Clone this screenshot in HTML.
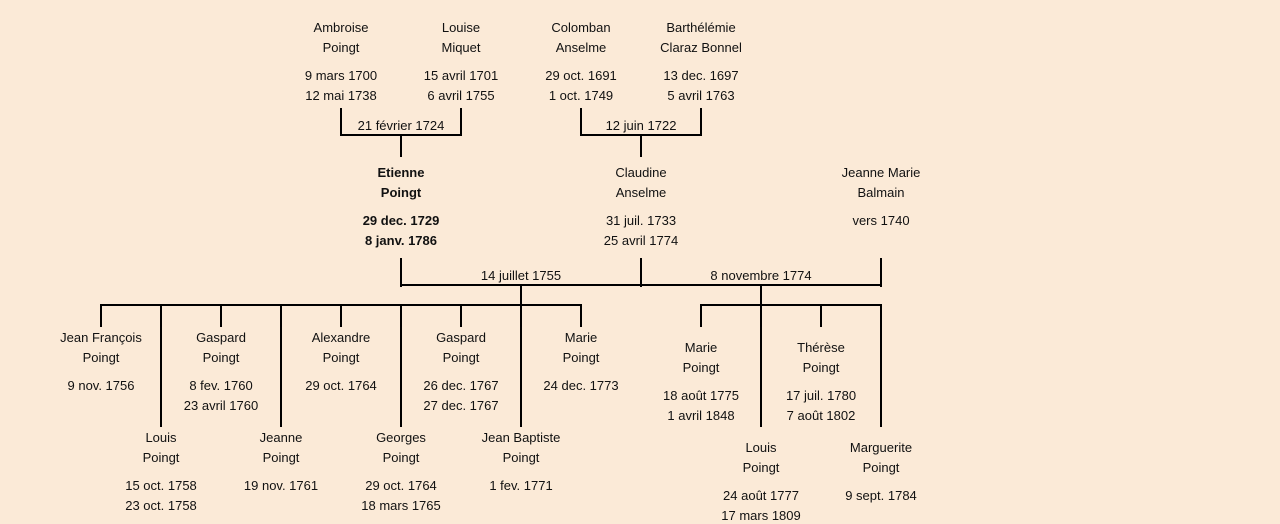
<!DOCTYPE html>
<html><head><meta charset="utf-8"><style>
body{margin:0;width:1280px;height:521px;background:#FBEAD7;position:relative;overflow:hidden;font-family:"Liberation Sans",sans-serif;font-size:13px;color:#111}
.t{position:absolute;width:180px;margin-left:-90px;margin-top:1px;text-align:center;line-height:16px;white-space:nowrap}
.b{font-weight:bold}
.h,.v{position:absolute;background:#000}
.h{height:2px}.v{width:2px}
</style></head><body>
<!-- lines -->
<div class="v" style="left:340px;top:108px;height:28px"></div>
<div class="v" style="left:460px;top:108px;height:28px"></div>
<div class="h" style="left:340px;top:134px;width:122px"></div>
<div class="v" style="left:400px;top:134px;height:23px"></div>
<div class="v" style="left:580px;top:108px;height:28px"></div>
<div class="v" style="left:700px;top:108px;height:28px"></div>
<div class="h" style="left:580px;top:134px;width:122px"></div>
<div class="v" style="left:640px;top:134px;height:23px"></div>

<div class="v" style="left:400px;top:258px;height:29px"></div>
<div class="v" style="left:640px;top:258px;height:29px"></div>
<div class="v" style="left:880px;top:258px;height:29px"></div>
<div class="h" style="left:400px;top:284px;width:482px"></div>
<div class="v" style="left:520px;top:284px;height:22px"></div>
<div class="v" style="left:760px;top:284px;height:22px"></div>

<div class="h" style="left:100px;top:304px;width:482px"></div>
<div class="v" style="left:100px;top:304px;height:23px"></div>
<div class="v" style="left:220px;top:304px;height:23px"></div>
<div class="v" style="left:340px;top:304px;height:23px"></div>
<div class="v" style="left:460px;top:304px;height:23px"></div>
<div class="v" style="left:580px;top:304px;height:23px"></div>
<div class="v" style="left:160px;top:304px;height:123px"></div>
<div class="v" style="left:280px;top:304px;height:123px"></div>
<div class="v" style="left:400px;top:304px;height:123px"></div>
<div class="v" style="left:520px;top:304px;height:123px"></div>

<div class="h" style="left:700px;top:304px;width:182px"></div>
<div class="v" style="left:700px;top:304px;height:23px"></div>
<div class="v" style="left:820px;top:304px;height:23px"></div>
<div class="v" style="left:760px;top:304px;height:123px"></div>
<div class="v" style="left:880px;top:304px;height:123px"></div>

<!-- grandparents -->
<div class="t" style="left:341px;top:19px">Ambroise</div><div class="t" style="left:341px;top:39px">Poingt</div>
<div class="t" style="left:341px;top:67px">9 mars 1700</div><div class="t" style="left:341px;top:87px">12 mai 1738</div>
<div class="t" style="left:461px;top:19px">Louise</div><div class="t" style="left:461px;top:39px">Miquet</div>
<div class="t" style="left:461px;top:67px">15 avril 1701</div><div class="t" style="left:461px;top:87px">6 avril 1755</div>
<div class="t" style="left:581px;top:19px">Colomban</div><div class="t" style="left:581px;top:39px">Anselme</div>
<div class="t" style="left:581px;top:67px">29 oct. 1691</div><div class="t" style="left:581px;top:87px">1 oct. 1749</div>
<div class="t" style="left:701px;top:19px">Barthélémie</div><div class="t" style="left:701px;top:39px">Claraz Bonnel</div>
<div class="t" style="left:701px;top:67px">13 dec. 1697</div><div class="t" style="left:701px;top:87px">5 avril 1763</div>
<div class="t" style="left:401px;top:117px">21 février 1724</div>
<div class="t" style="left:641px;top:117px">12 juin 1722</div>

<!-- parents -->
<div class="t b" style="left:401px;top:164px">Etienne</div><div class="t b" style="left:401px;top:184px">Poingt</div>
<div class="t b" style="left:401px;top:212px">29 dec. 1729</div><div class="t b" style="left:401px;top:232px">8 janv. 1786</div>
<div class="t" style="left:641px;top:164px">Claudine</div><div class="t" style="left:641px;top:184px">Anselme</div>
<div class="t" style="left:641px;top:212px">31 juil. 1733</div><div class="t" style="left:641px;top:232px">25 avril 1774</div>
<div class="t" style="left:881px;top:164px">Jeanne Marie</div><div class="t" style="left:881px;top:184px">Balmain</div>
<div class="t" style="left:881px;top:212px">vers 1740</div>
<div class="t" style="left:521px;top:267px">14 juillet 1755</div>
<div class="t" style="left:761px;top:267px">8 novembre 1774</div>

<!-- children row1 -->
<div class="t" style="left:101px;top:329px">Jean François</div><div class="t" style="left:101px;top:349px">Poingt</div>
<div class="t" style="left:101px;top:377px">9 nov. 1756</div>
<div class="t" style="left:221px;top:329px">Gaspard</div><div class="t" style="left:221px;top:349px">Poingt</div>
<div class="t" style="left:221px;top:377px">8 fev. 1760</div><div class="t" style="left:221px;top:397px">23 avril 1760</div>
<div class="t" style="left:341px;top:329px">Alexandre</div><div class="t" style="left:341px;top:349px">Poingt</div>
<div class="t" style="left:341px;top:377px">29 oct. 1764</div>
<div class="t" style="left:461px;top:329px">Gaspard</div><div class="t" style="left:461px;top:349px">Poingt</div>
<div class="t" style="left:461px;top:377px">26 dec. 1767</div><div class="t" style="left:461px;top:397px">27 dec. 1767</div>
<div class="t" style="left:581px;top:329px">Marie</div><div class="t" style="left:581px;top:349px">Poingt</div>
<div class="t" style="left:581px;top:377px">24 dec. 1773</div>
<!-- row2 -->
<div class="t" style="left:161px;top:429px">Louis</div><div class="t" style="left:161px;top:449px">Poingt</div>
<div class="t" style="left:161px;top:477px">15 oct. 1758</div><div class="t" style="left:161px;top:497px">23 oct. 1758</div>
<div class="t" style="left:281px;top:429px">Jeanne</div><div class="t" style="left:281px;top:449px">Poingt</div>
<div class="t" style="left:281px;top:477px">19 nov. 1761</div>
<div class="t" style="left:401px;top:429px">Georges</div><div class="t" style="left:401px;top:449px">Poingt</div>
<div class="t" style="left:401px;top:477px">29 oct. 1764</div><div class="t" style="left:401px;top:497px">18 mars 1765</div>
<div class="t" style="left:521px;top:429px">Jean Baptiste</div><div class="t" style="left:521px;top:449px">Poingt</div>
<div class="t" style="left:521px;top:477px">1 fev. 1771</div>

<!-- right group -->
<div class="t" style="left:701px;top:339px">Marie</div><div class="t" style="left:701px;top:359px">Poingt</div>
<div class="t" style="left:701px;top:387px">18 août 1775</div><div class="t" style="left:701px;top:407px">1 avril 1848</div>
<div class="t" style="left:821px;top:339px">Thérèse</div><div class="t" style="left:821px;top:359px">Poingt</div>
<div class="t" style="left:821px;top:387px">17 juil. 1780</div><div class="t" style="left:821px;top:407px">7 août 1802</div>
<div class="t" style="left:761px;top:439px">Louis</div><div class="t" style="left:761px;top:459px">Poingt</div>
<div class="t" style="left:761px;top:487px">24 août 1777</div><div class="t" style="left:761px;top:507px">17 mars 1809</div>
<div class="t" style="left:881px;top:439px">Marguerite</div><div class="t" style="left:881px;top:459px">Poingt</div>
<div class="t" style="left:881px;top:487px">9 sept. 1784</div>
</body></html>
